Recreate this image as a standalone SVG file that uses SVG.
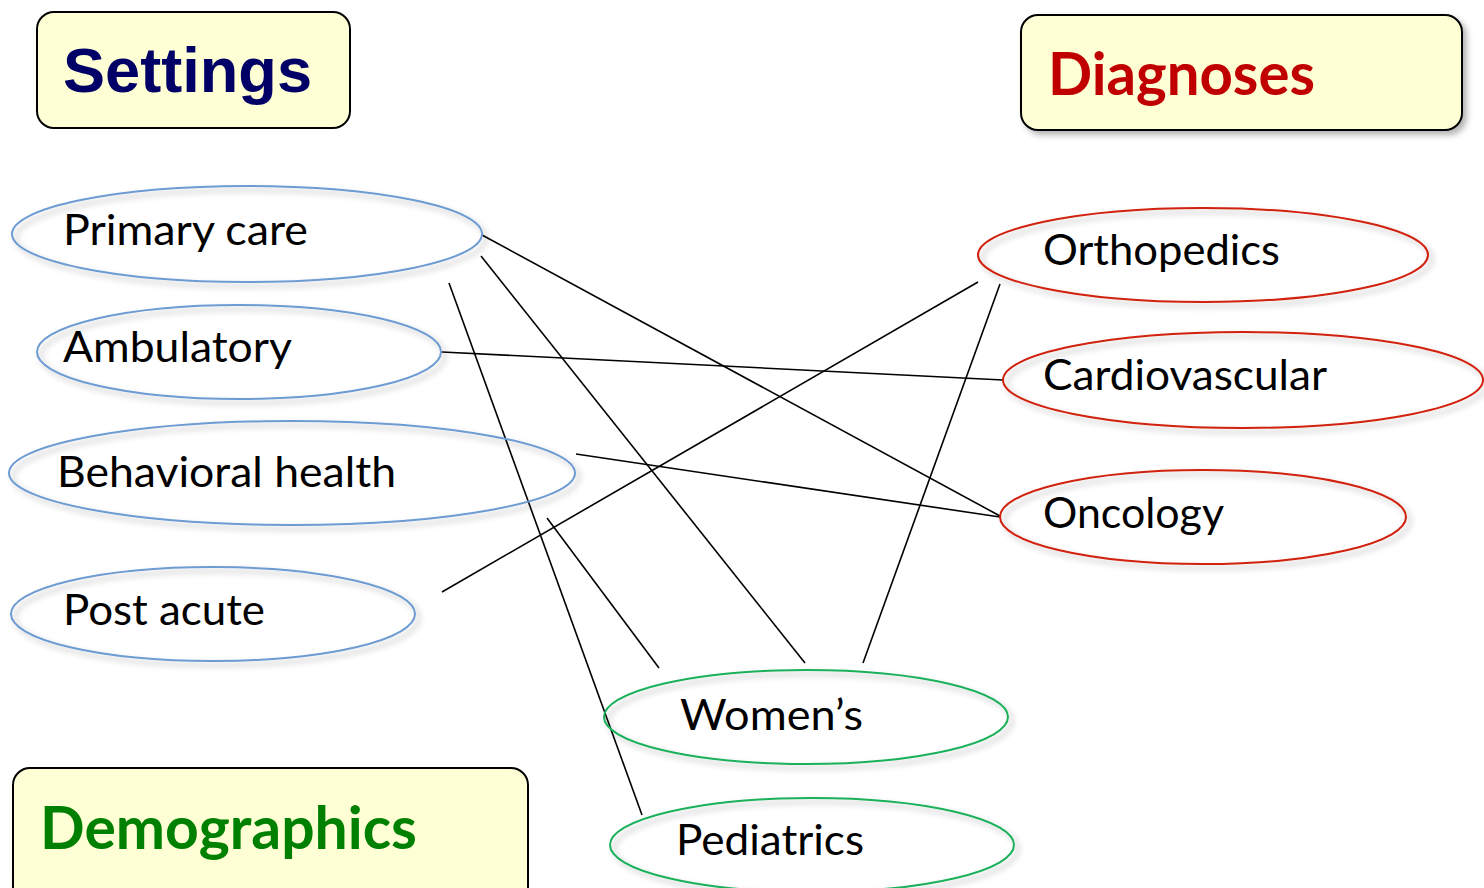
<svg xmlns="http://www.w3.org/2000/svg" width="1484" height="888" viewBox="0 0 1484 888">
  <defs>
    <filter id="shadow" x="-10%" y="-20%" width="130%" height="150%">
      <feGaussianBlur in="SourceAlpha" stdDeviation="3"/>
      <feOffset dx="4" dy="4" result="b"/>
      <feComponentTransfer><feFuncA type="linear" slope="0.3"/></feComponentTransfer>
      <feMerge><feMergeNode/><feMergeNode in="SourceGraphic"/></feMerge>
    </filter>
    <style>
      .box { fill: #ffffd5; stroke: #000; stroke-width: 2; }
      .ell { fill: none; stroke-width: 2; filter: url(#shadow); }
      .set { stroke: #6d9bd2; }
      .dia { stroke: #d0200e; }
      .dem { stroke: #1ab05a; }
      .lbl { font-family: Lato, "Open Sans", sans-serif; font-size: 43px; fill: #000; }
      .head { font-family: Lato, "Open Sans", sans-serif; font-weight: bold; font-size: 60px; }
      .conn line { stroke: #000; stroke-width: 1.6; }
    </style>
  </defs>
  <rect width="1484" height="888" fill="#fff"/>

  <!-- category headers -->
  <g id="settings-header">
    <rect class="box" x="37" y="12" width="313" height="116" rx="17"/>
    <text x="63" y="92" font-family="'Liberation Sans', Arial, sans-serif" font-weight="bold" font-size="63" fill="#000066" textLength="249" lengthAdjust="spacingAndGlyphs">Settings</text>
  </g>
  <g id="diagnoses-header">
    <rect class="box" x="1021" y="15" width="441" height="115" rx="17" filter="url(#shadow)"/>
    <text class="head" x="1048" y="95" fill="#c00000" textLength="267" lengthAdjust="spacingAndGlyphs">Diagnoses</text>
  </g>
  <g id="demographics-header">
    <rect class="box" x="13" y="768" width="515" height="140" rx="17"/>
    <text class="head" x="40" y="849" fill="#008000" textLength="377" lengthAdjust="spacingAndGlyphs">Demographics</text>
  </g>

  <!-- connectors -->
  <g id="connectors" class="conn">
    <line x1="482" y1="235" x2="1000" y2="516"/>
    <line x1="481" y1="256" x2="805" y2="663"/>
    <line x1="449" y1="283" x2="642" y2="815"/>
    <line x1="442" y1="352" x2="1003" y2="380"/>
    <line x1="576" y1="454" x2="1000" y2="517"/>
    <line x1="547" y1="518" x2="659" y2="668"/>
    <line x1="442" y1="592" x2="978" y2="282"/>
    <line x1="1000" y1="284" x2="863" y2="663"/>
  </g>

  <!-- settings -->
  <g id="primary-care">
    <ellipse class="ell set" cx="247" cy="234" rx="235" ry="48" stroke-width="2.5"/>
    <text class="lbl" x="63" y="245" textLength="245" lengthAdjust="spacingAndGlyphs">Primary care</text>
  </g>
  <g id="ambulatory">
    <ellipse class="ell set" cx="239" cy="352" rx="202" ry="47"/>
    <text class="lbl" x="63" y="362" textLength="229" lengthAdjust="spacingAndGlyphs">Ambulatory</text>
  </g>
  <g id="behavioral-health">
    <ellipse class="ell set" cx="292" cy="473" rx="283" ry="52"/>
    <text class="lbl" x="57" y="487" textLength="339" lengthAdjust="spacingAndGlyphs">Behavioral health</text>
  </g>
  <g id="post-acute">
    <ellipse class="ell set" cx="213" cy="614" rx="202" ry="47"/>
    <text class="lbl" x="63" y="625" textLength="202" lengthAdjust="spacingAndGlyphs">Post acute</text>
  </g>

  <!-- diagnoses -->
  <g id="orthopedics">
    <ellipse class="ell dia" cx="1203" cy="255" rx="225" ry="47"/>
    <text class="lbl" x="1043" y="265" textLength="237" lengthAdjust="spacingAndGlyphs">Orthopedics</text>
  </g>
  <g id="cardiovascular">
    <ellipse class="ell dia" cx="1243" cy="380" rx="240" ry="48"/>
    <text class="lbl" x="1043" y="390" textLength="284" lengthAdjust="spacingAndGlyphs">Cardiovascular</text>
  </g>
  <g id="oncology">
    <ellipse class="ell dia" cx="1203" cy="517" rx="203" ry="47"/>
    <text class="lbl" x="1043" y="528" textLength="181" lengthAdjust="spacingAndGlyphs">Oncology</text>
  </g>

  <!-- demographics -->
  <g id="womens">
    <ellipse class="ell dem" cx="806" cy="717" rx="202" ry="47"/>
    <text class="lbl" x="680" y="730" textLength="183" lengthAdjust="spacingAndGlyphs">Women’s</text>
  </g>
  <g id="pediatrics">
    <ellipse class="ell dem" cx="812" cy="845" rx="202" ry="47"/>
    <text class="lbl" x="676" y="855" textLength="188" lengthAdjust="spacingAndGlyphs">Pediatrics</text>
  </g>
</svg>
